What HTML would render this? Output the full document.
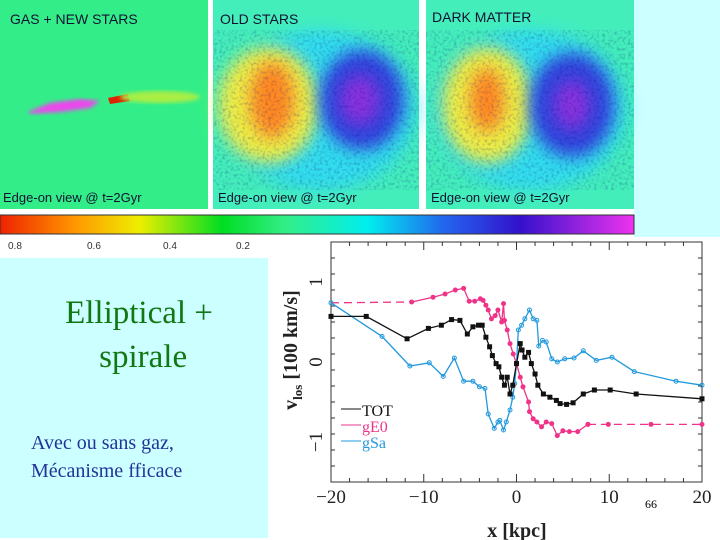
<!DOCTYPE html>
<html><head><meta charset="utf-8"><style>
body{margin:0;width:720px;height:540px;overflow:hidden;background:#fff;font-family:"Liberation Serif",serif;position:relative}
.abs{position:absolute}
</style></head><body>
<div class="abs" style="left:634px;top:0;width:86px;height:237px;background:#ccffff"></div>
<svg class="abs" style="left:0;top:0" width="720" height="540">
<defs>
<filter id="bl" x="-50%" y="-50%" width="200%" height="200%"><feGaussianBlur stdDeviation="8"/></filter>
<filter id="bl2"><feGaussianBlur stdDeviation="2"/></filter>
<filter id="noise"><feTurbulence type="fractalNoise" baseFrequency="0.35" numOctaves="2" seed="3"/><feColorMatrix type="matrix" values="0 0 0 0 0  0 0 0 0 0  0 0 0 0 0.2  0 0 0 1.2 -0.55"/><feComposite in2="SourceGraphic" operator="in"/></filter>
<linearGradient id="cb" x1="0" x2="1">
<stop offset="0" stop-color="#ee2200"/><stop offset="0.12" stop-color="#ff9900"/><stop offset="0.22" stop-color="#eeee00"/><stop offset="0.35" stop-color="#00dd22"/><stop offset="0.45" stop-color="#33ee88"/><stop offset="0.58" stop-color="#00eeee"/><stop offset="0.7" stop-color="#2266ee"/><stop offset="0.82" stop-color="#3311cc"/><stop offset="1" stop-color="#ee33ee"/></linearGradient>
</defs>
<g>
<rect x="0" y="0" width="208" height="209" fill="#33ee88"/>
<polygon points="28,112 50,103 80,99 100,101 90,108 60,112 30,114" fill="#ee44ee" filter="url(#bl2)"/>
<polygon points="108,98 128,94 130,101 110,104" fill="#dd2200"/>
<ellipse cx="160" cy="97" rx="40" ry="6" fill="#aaee44" filter="url(#bl2)"/>
<text x="10" y="24" font-family="Liberation Sans" font-size="14" fill="#113">GAS + NEW STARS</text>
<text x="3" y="202" font-family="Liberation Sans" font-size="13" fill="#113">Edge-on view @ t=2Gyr</text>
</g>
<g>
<rect x="213" y="0" width="206" height="209" fill="#44eebb"/>
<ellipse cx="320" cy="110" rx="95" ry="80" fill="#33ddee" filter="url(#bl)"/>
<ellipse cx="268" cy="105" rx="50" ry="58" fill="#eeee44" filter="url(#bl)"/>
<ellipse cx="272" cy="100" rx="22" ry="38" fill="#ff8822" filter="url(#bl)"/>
<ellipse cx="362" cy="100" rx="42" ry="50" fill="#3344dd" filter="url(#bl)"/>
<ellipse cx="360" cy="100" rx="20" ry="25" fill="#8833dd" filter="url(#bl)"/>
<rect x="213" y="30" width="206" height="160" fill="#000" filter="url(#noise)" opacity="0.5"/>
<text x="220" y="24" font-family="Liberation Sans" font-size="14" fill="#113">OLD STARS</text>
<text x="218" y="202" font-family="Liberation Sans" font-size="13" fill="#113">Edge-on view @ t=2Gyr</text>
</g>
<g>
<rect x="426" y="0" width="208" height="209" fill="#44eebb"/>
<ellipse cx="530" cy="110" rx="95" ry="80" fill="#33ddee" filter="url(#bl)"/>
<ellipse cx="487" cy="105" rx="45" ry="58" fill="#eeee44" filter="url(#bl)"/>
<ellipse cx="487" cy="100" rx="17" ry="32" fill="#ff8822" filter="url(#bl)"/>
<ellipse cx="572" cy="105" rx="42" ry="52" fill="#3344dd" filter="url(#bl)"/>
<ellipse cx="572" cy="105" rx="18" ry="25" fill="#8833dd" filter="url(#bl)"/>
<rect x="426" y="30" width="208" height="160" fill="#000" filter="url(#noise)" opacity="0.5"/>
<text x="432" y="22" font-family="Liberation Sans" font-size="14" fill="#113">DARK MATTER</text>
<text x="431" y="202" font-family="Liberation Sans" font-size="13" fill="#113">Edge-on view @ t=2Gyr</text>
</g>
<rect x="0" y="215" width="634" height="19" fill="url(#cb)" stroke="#333"/>
<g font-family="Liberation Sans" font-size="10" fill="#333">
<text x="8" y="249">0.8</text><text x="87" y="249">0.6</text><text x="163" y="249">0.4</text><text x="236" y="249">0.2</text></g>
<rect x="0" y="258" width="268" height="280" fill="#ccffff"/>
<g id="plot"></g>
</svg>
<div class="abs" style="left:0;width:278px;top:291px;text-align:center;color:#117711;font-size:33px;line-height:44px">Elliptical +<br>&nbsp;spirale</div>
<div class="abs" style="left:31px;top:429px;color:#223399;font-size:20px;line-height:28px">Avec ou sans gaz,<br>Mécanisme fficace</div>
<div class="abs" style="left:645px;top:497px;font-size:12px">66</div>
<script>
const totX=[-20,-16.2,-11.8,-9.5,-8.1,-7,-6.1,-5.3,-4.7,-4.1,-3.7,-3.3,-2.9,-2.6,-2.2,-1.9,-1.6,-1.3,-1.0,-0.7,-0.4,0,0.4,0.6,0.9,1.3,1.6,2.0,2.3,2.9,3.6,4.3,4.7,5.4,6.1,7.2,8.4,10.1,12.9,20];
const totY=[0.57,0.57,0.29,0.42,0.46,0.53,0.52,0.35,0.44,0.46,0.46,0.31,0.19,0.08,-0.02,-0.06,-0.19,-0.29,-0.19,-0.40,-0.29,-0.02,0.23,0.15,0.06,0.12,-0.02,-0.15,-0.29,-0.40,-0.44,-0.48,-0.52,-0.53,-0.51,-0.40,-0.35,-0.35,-0.40,-0.46];
const geX=[-11.3,-9,-7.7,-6.6,-5.7,-5.1,-4.5,-3.9,-3.6,-3.3,-3.05,-2.7,-2.3,-2.0,-1.6,-1.4,-1.3,-1.0,-0.7,-0.35,0,0.4,0.7,1.3,1.4,1.8,2.2,2.7,3.2,3.8,4.4,5.0,5.7,6.6,7.7];
const geY=[0.75,0.81,0.85,0.9,0.92,0.76,0.76,0.79,0.77,0.71,0.65,0.54,0.58,0.65,0.5,0.73,0.52,0.4,0.23,0.1,-0.02,-0.19,-0.31,-0.5,-0.62,-0.71,-0.75,-0.81,-0.75,-0.77,-0.92,-0.86,-0.87,-0.87,-0.78];
const geDashX=[[-20,-11.3],[7.7,9.9,14.5,20]];
const geDashY=[[0.74,0.75],[-0.78,-0.78,-0.78,-0.78]];
const saX=[-20,-14.5,-11.5,-9.4,-7.9,-6.7,-5.7,-4.7,-4.0,-3.4,-3.05,-2.4,-2.0,-1.8,-1.4,-1.1,-0.7,-0.4,-0.2,0,0.2,0.55,0.9,1.4,1.8,2.2,2.4,2.8,3.2,3.8,4.4,5.2,6.2,7.2,8.6,10.3,12.7,17.2,20];
const saY=[0.74,0.32,-0.05,-0.01,-0.18,0.05,-0.24,-0.24,-0.31,-0.33,-0.65,-0.83,-0.75,-0.73,-0.85,-0.75,-0.6,-0.44,-0.27,-0.02,0.4,0.46,0.54,0.65,0.54,0.52,0.2,0.27,0.25,0.04,0,0.04,0.05,0.14,0.02,0.06,-0.12,-0.24,-0.29];
const xTicks=[-20,-10,0,10,20];
const yTicks=[1,0,-1];
const NS='http://www.w3.org/2000/svg';
const L=331,R=702,T=242,B=482;
const sx=v=>L+(v+20)/40*(R-L);
const sy=v=>362-v*80;
const g=document.getElementById('plot');
function mk(t,a,p){const e=document.createElementNS(NS,t);for(const k in a)e.setAttribute(k,a[k]);(p||g).appendChild(e);return e;}
const bg=mk('rect',{x:270,y:237,width:450,height:303,fill:'#fff'});


const fr=mk('rect',{x:L,y:T,width:R-L,height:B-T,fill:'none',stroke:'#333','stroke-width':1});


for(let v=-20;v<=20;v+=2){const big=v%10===0;const x=sx(v);
mk('line',{x1:x,x2:x,y1:T,y2:T+(big?8:4),stroke:'#333'});mk('line',{x1:x,x2:x,y1:B,y2:B-(big?8:4),stroke:'#333'});}
for(let v=-1.5;v<=1.5;v+=0.2){const y=sy(v);const big=Math.abs(v-Math.round(v))<0.01;
mk('line',{x1:L,x2:L+(big?8:4),y1:y,y2:y,stroke:'#333'});mk('line',{x1:R,x2:R-(big?8:4),y1:y,y2:y,stroke:'#333'});}
xTicks.forEach(v=>{const t=mk('text',{x:sx(v),y:503,'text-anchor':'middle','font-size':19,fill:'#222','font-family':'Liberation Serif'});t.textContent=(v<0?'\u2212':'')+Math.abs(v);

});
yTicks.forEach(v=>{const t=mk('text',{x:0,y:0,'text-anchor':'middle','font-size':19,fill:'#222',transform:`translate(322,${sy(v)}) rotate(-90)`});t.textContent=(v<0?'\u2212':'')+Math.abs(v);

});
const xl=mk('text',{x:517,y:537,'text-anchor':'middle','font-size':20,'font-weight':'bold',fill:'#222'});xl.textContent='x [kpc]';


const yl=mk('text',{x:0,y:0,'text-anchor':'middle','font-size':20,'font-weight':'bold',fill:'#222',transform:'translate(297,350) rotate(-90)'});
yl.innerHTML='v<tspan font-size="13" dy="5">los</tspan><tspan dy="-5"> [100 km/s]</tspan>';


function series(xs,ys,col,name,marker,dash){
const s=mk('polyline',{points:xs.map((x,i)=>sx(x)+','+sy(ys[i])).join(' '),fill:'none',stroke:col,'stroke-width':1.3,'stroke-dasharray':dash||'none'});


if(marker)xs.forEach((x,i)=>{let m;
if(marker==='sq')m=mk('rect',{x:sx(x)-2.5,y:sy(ys[i])-2.5,width:5,height:5,fill:col});
else if(marker==='o')m=mk('circle',{cx:sx(x),cy:sy(ys[i]),r:2,fill:'none',stroke:col});
else m=mk('circle',{cx:sx(x),cy:sy(ys[i]),r:2.5,fill:col});

});}
series(geDashX[0],geDashY[0],'#ee3388','ge0-dashed-left',null,'8,5');
series(geDashX[1],geDashY[1],'#ee3388','ge0-dashed-right','dot','8,5');
series(geX,geY,'#ee3388','ge0-line','dot');
series(saX,saY,'#2299dd','gsa-line','o');
series(totX,totY,'#111','tot-line','sq');
[['TOT','#111',414],['gE0','#ee3388',430],['gSa','#2299dd',446]].forEach(([n,c,y])=>{
const l=mk('line',{x1:341,x2:361,y1:y-5,y2:y-5,stroke:c});


const t=mk('text',{x:362,y:y+2,'font-size':16,fill:c});t.textContent=n;

});
</script>
</body></html>
